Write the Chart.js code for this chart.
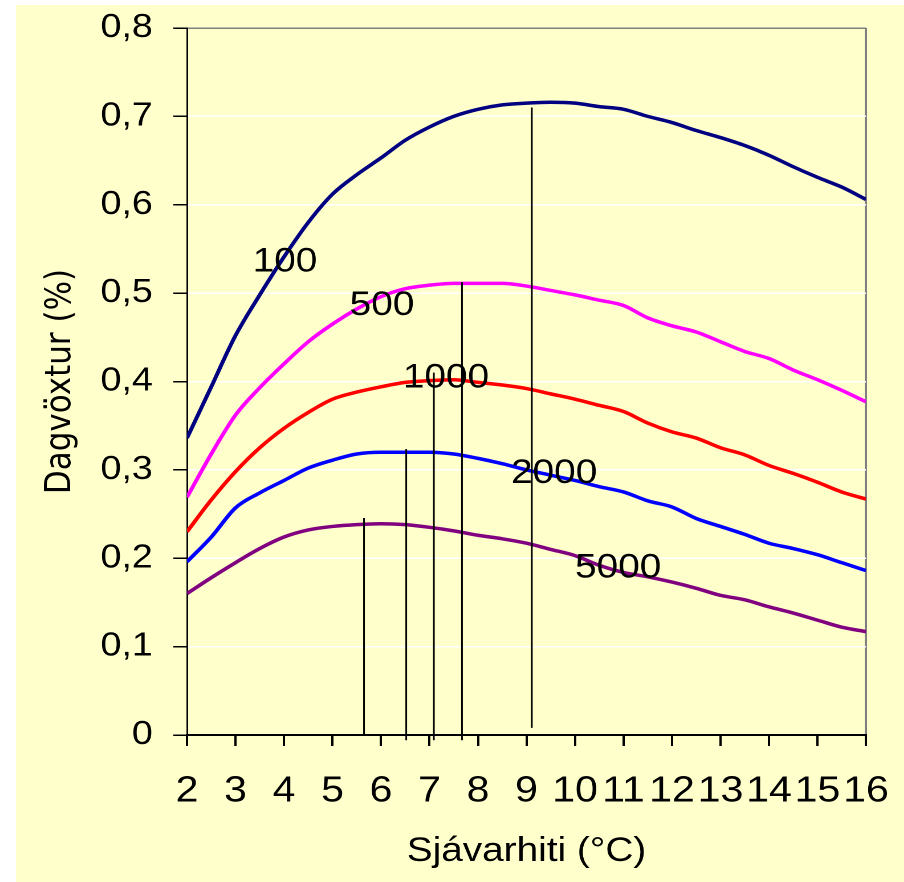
<!DOCTYPE html>
<html><head><meta charset="utf-8">
<script src="https://cdn.jsdelivr.net/npm/chart.js@4"></script>
<style>
html,body{margin:0;padding:0;background:#fff;}
#wrap{position:absolute;left:16px;top:5px;width:888px;height:877px;background:#FFFFCC;overflow:hidden;}
#c{position:absolute;left:0;top:0;transform:scaleX(1.14);transform-origin:0 0;}
</style></head><body>
<div id="wrap"><canvas id="c" width="779" height="877"></canvas></div>
<script>
// Sea temperature (°C)
const temps = [2,2.5,3,3.5,4,4.5,5,5.5,6,6.5,7,7.5,8,8.5,9,9.5,10,10.5,11,11.5,12,12.5,13,13.5,14,14.5,15,15.5,16];
// Daily growth (%) per fish weight class
const s100  = [0.336,0.394,0.452,0.498,0.541,0.580,0.612,0.634,0.653,0.673,0.688,0.700,0.708,0.713,0.715,0.716,0.715,0.711,0.708,0.700,0.693,0.684,0.676,0.667,0.656,0.643,0.631,0.620,0.606];
const s500  = [0.269,0.318,0.362,0.393,0.420,0.445,0.465,0.482,0.496,0.505,0.509,0.511,0.511,0.511,0.508,0.503,0.498,0.492,0.486,0.472,0.463,0.456,0.445,0.434,0.426,0.413,0.402,0.390,0.377];
const s1000 = [0.230,0.266,0.298,0.325,0.347,0.365,0.380,0.388,0.394,0.399,0.401,0.402,0.399,0.396,0.392,0.386,0.380,0.373,0.366,0.353,0.343,0.336,0.325,0.317,0.305,0.296,0.286,0.275,0.267];
const s2000 = [0.196,0.224,0.257,0.274,0.288,0.302,0.311,0.318,0.320,0.320,0.320,0.318,0.313,0.307,0.300,0.294,0.288,0.281,0.275,0.265,0.258,0.245,0.236,0.227,0.217,0.211,0.204,0.195,0.186];
const s5000 = [0.160,0.178,0.195,0.211,0.224,0.232,0.236,0.238,0.239,0.238,0.235,0.231,0.226,0.222,0.217,0.210,0.203,0.192,0.184,0.179,0.173,0.166,0.158,0.153,0.145,0.138,0.130,0.122,0.117];
const seriesNames = ['100','500','1000','2000','5000'];
const seriesColors = ['#000080','#FF00FF','#FF0000','#0000FF','#800080'];
// Optimum-temperature markers
const peakX      = [5.65, 6.52, 7.09, 7.67, 9.11];
const peakTop    = [0.2455, 0.3235, 0.41, 0.5125, 0.71];
const peakBottom = [0, -0.006, -0.006, -0.006, 0.008];
// In-chart series labels
const labelX = [4.02, 6.02, 7.34, 9.57, 10.89];
const labelY = [0.535, 0.486, 0.404, 0.296, 0.189];
// Ticks
const xTickValues = [2,3,4,5,6,7,8,9,10,11,12,13,14,15,16];
const xTickLabels = ['2','3','4','5','6','7','8','9','10','11','12','13','14','15','16'];
const yTickValues = [0,0.1,0.2,0.3,0.4,0.5,0.6,0.7,0.8];
const yTickLabels = ['0','0,1','0,2','0,3','0,4','0,5','0,6','0,7','0,8'];

const allSeries = [s100, s500, s1000, s2000, s5000];
const datasets = [];
peakX.forEach((px, i) => {
  datasets.push({
    label: 'peak' + i,
    data: [{x: px, y: peakBottom[i]}, {x: px, y: peakTop[i]}],
    borderColor: '#000', borderWidth: 1.5, pointRadius: 0, clip: false
  });
});
allSeries.forEach((s, i) => {
  datasets.push({
    label: seriesNames[i],
    data: temps.map((t, j) => ({x: t, y: s[j]})),
    borderColor: seriesColors[i], borderWidth: 3.5, pointRadius: 0,
    cubicInterpolationMode: 'monotone'
  });
});

const labelPlugin = {
  id: 'seriesLabels',
  afterDatasetsDraw(chart) {
    const {ctx, scales: {x, y}} = chart;
    ctx.save();
    ctx.fillStyle = '#000';
    ctx.font = '34px "Liberation Sans", Arial, sans-serif';
    ctx.textAlign = 'center';
    ctx.textBaseline = 'middle';
    seriesNames.forEach((n, i) => {
      ctx.fillText(n, x.getPixelForValue(labelX[i]), y.getPixelForValue(labelY[i]));
    });
    ctx.restore();
  }
};

function zeroPad(s) { s.paddingTop = 0; s.paddingBottom = 0; s.paddingLeft = 0; s.paddingRight = 0; }

new Chart(document.getElementById('c'), {
  type: 'line',
  data: { datasets },
  options: {
    responsive: false,
    animation: false,
    devicePixelRatio: 2,
    layout: { padding: { top: 23, right: 33.4, left: 0, bottom: 0 } },
    plugins: { legend: { display: false }, tooltip: { enabled: false } },
    scales: {
      x: {
        type: 'linear', min: 2, max: 16,
        afterBuildTicks: (s) => { s.ticks = xTickValues.map(v => ({value: v})); },
        afterFit: (s) => { s.height = 147; zeroPad(s); },
        ticks: {
          autoSkip: false, maxRotation: 0, minRotation: 0, padding: 24,
          color: '#000', font: { family: '"Liberation Sans", Arial, sans-serif', size: 36 },
          callback: (v) => xTickLabels[xTickValues.indexOf(v)]
        },
        grid: {
          drawOnChartArea: true, drawTicks: true, tickLength: 11, tickColor: '#000', tickWidth: 2,
          lineWidth: 2,
          color: (c) => (c.tick && c.tick.value === 16) ? '#808080' : 'rgba(0,0,0,0)'
        },
        border: { display: true, color: '#000', width: 2 },
        title: {
          display: true, text: 'Sjávarhiti (°C)', color: '#000',
          font: { family: '"Liberation Sans", Arial, sans-serif', size: 34 },
          padding: { top: 0, bottom: 10 }
        }
      },
      y: {
        type: 'linear', min: 0, max: 0.8,
        afterBuildTicks: (s) => { s.ticks = yTickValues.map(v => ({value: v})); },
        afterFit: (s) => { s.width = 150; zeroPad(s); },
        ticks: {
          padding: 18, color: '#000',
          font: { family: '"Liberation Sans", Arial, sans-serif', size: 33 },
          callback: (v) => { const i = yTickValues.findIndex(t => Math.abs(t - v) < 1e-9); return i >= 0 ? yTickLabels[i] : ''; }
        },
        grid: {
          drawTicks: true, tickLength: 12, tickColor: '#000', tickWidth: 1.5, lineWidth: 1.5,
          color: (c) => (c.tick && Math.abs(c.tick.value - 0.8) < 1e-9) ? '#808080' : '#FFFFFF'
        },
        border: { display: true, color: '#000', width: 1.5 },
        title: {
          display: true, text: 'Dagvöxtur (%)', color: '#000',
          font: { family: '"DejaVu Sans", sans-serif', size: 31 },
          padding: { top: 21, bottom: 0 }
        }
      }
    }
  },
  plugins: [labelPlugin]
});
</script>
</body></html>
